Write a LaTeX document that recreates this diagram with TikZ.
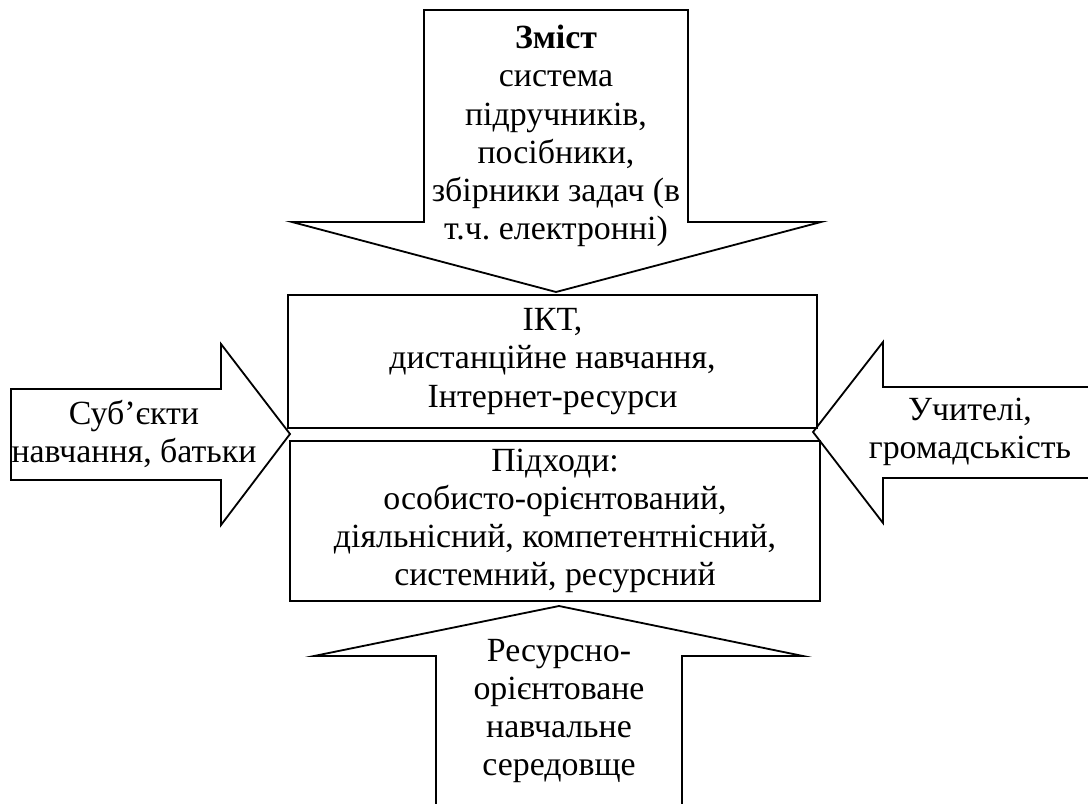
\documentclass[tikz,border=0pt]{standalone}
\usepackage{fontspec}
\setmainfont{Liberation Serif}
\usetikzlibrary{positioning}
\frenchspacing

\begin{document}
\begin{tikzpicture}[
  x=0.44pt, y=-0.44pt,
  tekst/.style={font=\fontsize{14.9}{16.8}\selectfont},
  blok/.style={
    rectangle, draw, line width=0.8pt,
    align=center, inner sep=0pt, tekst
  },
  strilka/.style={draw, line width=0.8pt, line join=miter},
  napys/.style={align=center, inner sep=0pt, tekst}
]

%% ─────────────────────────────────────────────────────────
%% Полотно 1088 x 803 (одиниця = 1 піксель), вісь y донизу
%% ─────────────────────────────────────────────────────────
\useasboundingbox (0,0) rectangle (1088,803);
\clip (0,0) rectangle (1088,803);

%% ЦЕНТР ─ два блоки
\node[blok, minimum width=232.8pt, minimum height=58.5pt] (IKT) at (552.5,361.5)
  {ІКТ,\\дистанційне навчання,\\Інтернет-ресурси};
\node[blok, minimum width=233.2pt, minimum height=70.4pt] (PIDH) at (555,521)
  {Підходи:\\особисто-орієнтований,\\діяльнісний, компетентнісний,\\системний, ресурсний};

%% ВЕРХ ─ стрілка донизу
\draw[strilka] (424,10) -- (688,10) -- (688,222) -- (821,222)
  -- (556,292) -- (292,222) -- (424,222) -- cycle;
\node[napys] (ZMIST) at (556,136)
  {\textbf{Зміст}\\система\\підручників,\\посібники,\\збірники задач (в\\т.ч. електронні)};

%% ЛІВОРУЧ ─ стрілка праворуч
\draw[strilka] (11,389) -- (221,389) -- (221,344) -- (290,434)
  -- (221,525) -- (221,480) -- (11,480) -- cycle;
\node[napys] (SUBJ) at (134,434) {Суб’єкти\\навчання, батьки};

%% ПРАВОРУЧ ─ стрілка ліворуч (обрізана краєм)
\draw[strilka] (1100,387) -- (883,387) -- (883,342) -- (813,432)
  -- (883,523) -- (883,478) -- (1100,478);
\node[napys] (UCH) at (970,432) {Учителі,\\громадськість};

%% НИЗ ─ стрілка догори (обрізана краєм)
\draw[strilka] (436,815) -- (436,656) -- (314,656) -- (559,606)
  -- (803,656) -- (682,656) -- (682,815);
\node[napys] (SERED) at (559,711) {Ресурсно-\\орієнтоване\\навчальне\\середовще};

\end{tikzpicture}
\end{document}
